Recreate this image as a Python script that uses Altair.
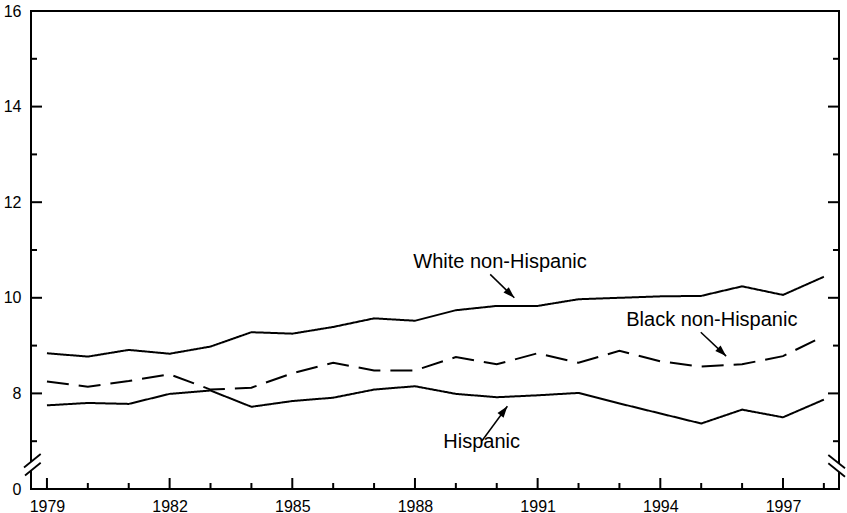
import altair as alt
import pandas as pd

years = list(range(1979, 1999))
white = [8.84, 8.77, 8.91, 8.83, 8.98, 9.28, 9.25, 9.39, 9.57, 9.52,
         9.74, 9.83, 9.83, 9.97, 10.00, 10.03, 10.04, 10.24, 10.06, 10.44]
black = [8.25, 8.14, 8.26, 8.40, 8.08, 8.12, 8.42, 8.64, 8.48, 8.48,
         8.76, 8.61, 8.84, 8.64, 8.89, 8.67, 8.56, 8.61, 8.78, 9.20]
hispanic = [7.75, 7.80, 7.78, 7.99, 8.06, 7.72, 7.84, 7.91, 8.08, 8.15,
            7.99, 7.92, 7.96, 8.01, 7.79, 7.58, 7.37, 7.66, 7.50, 7.87]
series_names = ["White non-Hispanic", "Black non-Hispanic", "Hispanic"]

x_label_years = [1979, 1982, 1985, 1988, 1991, 1994, 1997]
y_major = [6, 8, 10, 12, 14, 16]
y_minor = [7, 9, 11, 13, 15]

# annotations (label position and arrow tail/tip in data units)
ann_text = ["White non-Hispanic", "Black non-Hispanic", "Hispanic"]
ann_tx = [1990.08, 1995.26, 1989.63]
ann_ty = [10.63, 9.42, 6.86]
arr_x1 = [1989.84, 1994.99, 1989.64]
arr_y1 = [10.49, 9.28, 7.01]
arr_x2 = [1990.43, 1995.61, 1990.26]
arr_y2 = [10.00, 8.78, 7.73]
arr_angle = [134, 134, 37]

W, H = 808, 478
FONT = "Liberation Sans"

rows = []
for name, vals in zip(series_names, [white, black, hispanic]):
    for y, v in zip(years, vals):
        rows.append({"year": y, "value": v, "series": name})
df = pd.DataFrame(rows)

xs = alt.Scale(domain=[1978.61, 1998.37], nice=False, zero=False)
ys = alt.Scale(domain=[6, 16], nice=False, zero=False)
xa = alt.Axis(values=x_label_years, format="d", ticks=False, domain=False,
              grid=False, labelFontSize=16, labelFont=FONT, labelColor="black",
              labelPadding=9, title=None)
ya = alt.Axis(values=y_major, ticks=False, domain=False, grid=False,
              labelExpr="datum.value == 6 ? '0' : datum.label",
              labelFontSize=16, labelFont=FONT, labelColor="black",
              labelPadding=10, title=None)

def X(f, **kw):
    return alt.X(f, scale=xs, axis=xa, title=None, **kw)
def Y(f, **kw):
    return alt.Y(f, scale=ys, axis=ya, title=None, **kw)

lines = alt.Chart(df).mark_line(color="black", strokeWidth=2).encode(
    x=X("year:Q"),
    y=Y("value:Q"),
    detail="series:N",
    strokeDash=alt.StrokeDash("series:N", legend=None,
                              scale=alt.Scale(domain=series_names,
                                              range=[[1, 0], [22, 10], [1, 0]])),
)

xt = pd.DataFrame({"year": years})
xt["major"] = xt["year"].isin(x_label_years)
x_major = alt.Chart(xt[xt["major"]]).mark_rule(color="black", strokeWidth=2).encode(
    x=X("year:Q"), y=alt.value(H), y2=alt.value(H - 11))
x_minor = alt.Chart(xt[~xt["major"]]).mark_rule(color="black", strokeWidth=2).encode(
    x=X("year:Q"), y=alt.value(H), y2=alt.value(H - 6))

ymaj = pd.DataFrame({"v": y_major[1:]})
ymin = pd.DataFrame({"v": y_minor})
def yticks(d, x0, x1):
    return alt.Chart(d).mark_rule(color="black", strokeWidth=2).encode(
        y=Y("v:Q"), x=alt.value(x0), x2=alt.value(x1))

tick_layers = [yticks(ymaj, 0, 11), yticks(ymin, 0, 6),
               yticks(ymaj, W, W - 11), yticks(ymin, W, W - 6)]

# axis break gaps and slashes
one = pd.DataFrame({"a": [0]})
gapL = alt.Chart(one).mark_rect(color="white").encode(
    x=alt.value(-3), x2=alt.value(3), y=alt.value(451), y2=alt.value(459))
gapR = alt.Chart(one).mark_rect(color="white").encode(
    x=alt.value(W - 3), x2=alt.value(W + 3), y=alt.value(453), y2=alt.value(461))
def slash(x0, y0, x1, y1):
    return alt.Chart(one).mark_rule(color="black", strokeWidth=1.8).encode(
        x=alt.value(x0), y=alt.value(y0), x2=alt.value(x1), y2=alt.value(y1))
slashes = [slash(-7, 456.5, 9.7, 443), slash(-6, 464.5, 9.7, 451.7),
           slash(797.3, 444, 814, 457.3), slash(797.3, 452.3, 814, 465.7)]

adf = pd.DataFrame({"text": ann_text, "tx": ann_tx, "ty": ann_ty,
                    "x1": arr_x1, "y1": arr_y1, "x2": arr_x2, "y2": arr_y2,
                    "angle": arr_angle})
labels = alt.Chart(adf).mark_text(fontSize=20, font=FONT, color="black",
                                  align="center", baseline="alphabetic").encode(
    x=X("tx:Q"), y=Y("ty:Q"), text="text:N")
shafts = alt.Chart(adf).mark_rule(color="black", strokeWidth=1.5).encode(
    x=X("x1:Q"), y=Y("y1:Q"), x2="x2:Q", y2="y2:Q")
heads = alt.Chart(adf).mark_point(
    shape="M0,0 L-0.4,1.2 L0.4,1.2 Z", filled=True, color="black", opacity=1, size=360,
).encode(x=X("x2:Q"), y=Y("y2:Q"), angle=alt.Angle("angle:Q", scale=None))

chart = alt.layer(
    lines, x_major, x_minor, *tick_layers, gapL, gapR, *slashes, shafts, heads, labels
).properties(
    width=W, height=H,
    autosize=alt.AutoSizeParams(type="none"),
    padding={"left": 31, "top": 11, "right": 8, "bottom": 24},
    background="white",
).configure_view(stroke="black", strokeWidth=2)

chart.save("out.html", embed_options={"renderer": "svg", "actions": False})
